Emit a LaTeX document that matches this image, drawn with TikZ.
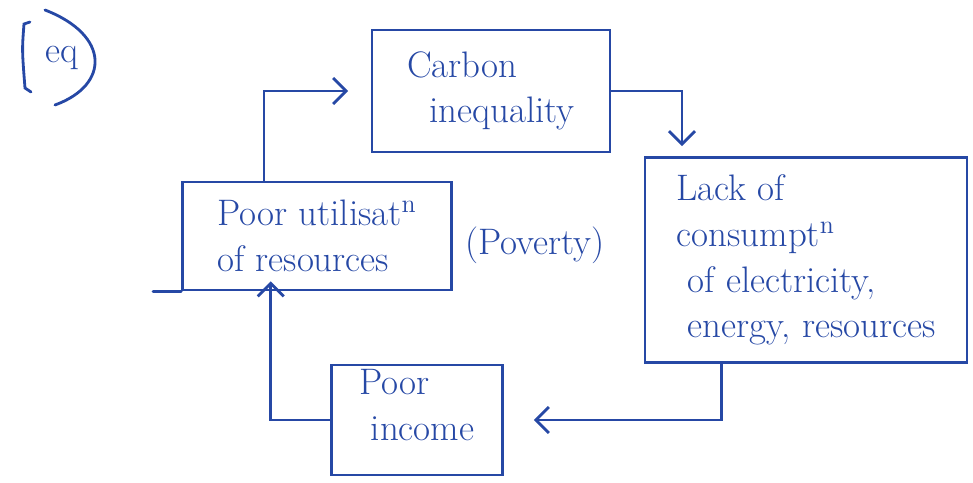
\documentclass[tikz,border=0pt]{standalone}
\usepackage{fontspec}
\usetikzlibrary{arrows.meta,calc}
\definecolor{ink}{RGB}{38,72,165}
\begin{document}
\begin{tikzpicture}[x=0.02cm,y=-0.02cm,
  box/.style={draw=ink, line width=1.6pt, text=ink, align=left, inner sep=0pt,
    font=\fontsize{21}{26}\selectfont},
  arr/.style={draw=ink, line width=1.6pt,
    -{Straight Barb[length=2.6mm,width=5.2mm,line width=1.6pt]}},
  lbl/.style={text=ink, font=\fontsize{21}{26}\selectfont},
  inkline/.style={draw=ink, line width=1.6pt, line cap=round}]
\useasboundingbox (0,0) rectangle (973,483);

% (eq)
\node[lbl] (eq) at (62,58) {eq};
\draw[inkline] (30,22) -- (24,24) .. controls (22,50) .. (25,88) -- (31,92);
\draw[inkline] (45,10) .. controls (110,35) and (110,85) .. (55,105);

% boxes
\node[box, minimum width=4.76cm, minimum height=2.44cm] (ci) at (491,91)
  {Carbon\\\ \ inequality};
\node[box, minimum width=5.38cm, minimum height=2.16cm] (pu) at (317,236)
  {Poor utilisat\textsuperscript{n}\\of resources};
\node[box, minimum width=6.44cm, minimum height=4.1cm] (la) at (806,260)
  {Lack of\\consumpt\textsuperscript{n}\\\ of electricity,\\\ energy, resources};
\node[box, minimum width=3.42cm, minimum height=2.2cm, text depth=0.6cm] (pi) at (417,420)
  {Poor\\\ income};
\node[lbl] (pov) at (535,245) {(Poverty)};

% extension of the bottom line of the poor-utilisation box
\draw[inkline] (pu.south west) -- ++(-28,0);

% connectors
\coordinate (puA) at ($(pu.north west)!0.305!(pu.north east)$);
\draw[arr, shorten >=0.45cm] (puA) |- (ci.west);

\coordinate (laN) at ($(la.north west)!0.118!(la.north east)$);
\draw[arr, shorten >=0.2cm] (ci.east) -| (laN);

\coordinate (laS) at ($(la.south west)!0.239!(la.south east)$);
\draw[arr, shorten >=0.6cm] (laS) |- (pi.east);

\coordinate (puS) at ($(pu.south west)!0.33!(pu.south east)$);
\draw[arr, shorten >=-0.2cm] (pi.west) -| (puS);
\end{tikzpicture}
\end{document}
